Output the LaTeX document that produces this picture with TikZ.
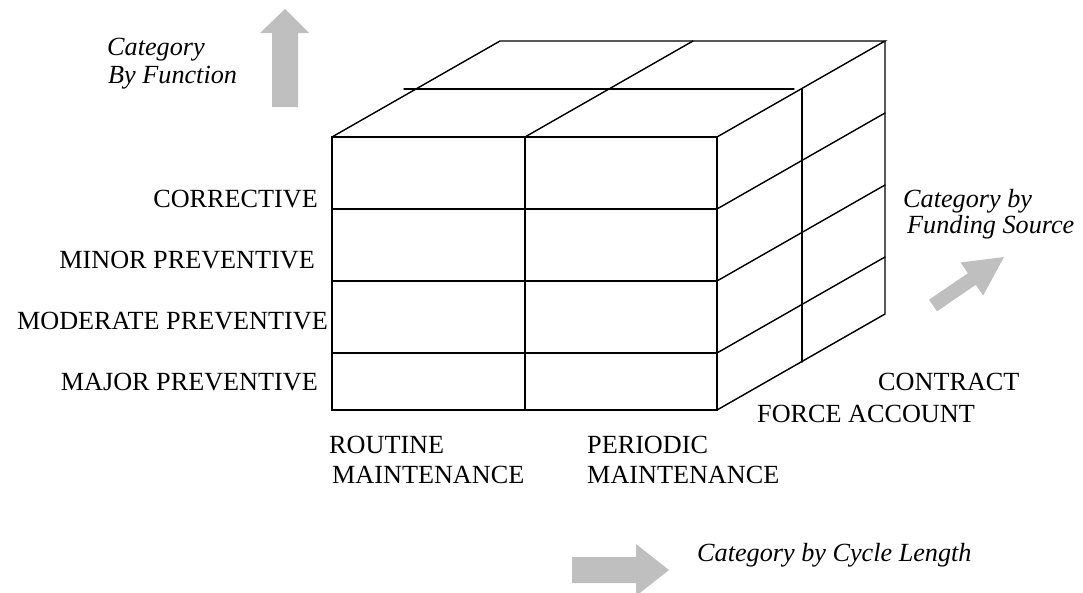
\documentclass[tikz,border=0pt]{standalone}
\usepackage{fontspec}
\setmainfont{Liberation Serif}
\usetikzlibrary{positioning,calc}

\tikzset{
  lbl/.style={font=\fontsize{26.2}{30}\selectfont, inner sep=0pt},
  catlbl/.style={font=\fontsize{26.2}{30}\selectfont\itshape, inner sep=0pt},
  grid/.style={line width=1.4pt, line cap=round},
  blockarrow/.style={fill=gray!50, draw=none}
}

\begin{document}
\begin{tikzpicture}[x=1pt, y=-1pt]
    \useasboundingbox (0,0) rectangle (1083,592);

    % Front Face
    \draw[grid] (332,137) rectangle (717,410);
    \draw[grid] (525,137) -- (525,410);
    \foreach \y in {209,281,353}
        \draw[grid] (332,\y) -- (717,\y);

    % Top Face
    \draw[grid] (332,137) -- (500,41) -- (885,41) -- (717,137);
    \draw[grid] (525,137) -- (693,41);
    \draw[grid] (404,89) -- (794,89);

    % Right Face
    \draw[grid] (885,41) -- (885,314) -- (717,410);
    \foreach \y in {209,281,353}
        \draw[grid] (717,\y) -- ++(168,-96);
    \draw[grid] (802,89) -- (802,362);

    % Row Labels
    \node[lbl, anchor=base east] (corr) at (318,207) {CORRECTIVE};
    \node[lbl, anchor=base east] (minor) at (315,268) {MINOR PREVENTIVE};
    \node[lbl, anchor=base east] (moderate) at (328,329) {MODERATE PREVENTIVE};
    \node[lbl, anchor=base east] (major) at (318,390) {MAJOR PREVENTIVE};

    % Column Labels
    \node[lbl, anchor=base west] (routine) at (329,453) {ROUTINE};
    \node[lbl, anchor=base west] (routine2) at (332,483) {MAINTENANCE};
    \node[lbl, anchor=base west] (periodic) at (587,453) {PERIODIC};
    \node[lbl, anchor=base west] (periodic2) at (587,483) {MAINTENANCE};

    % Depth Labels
    \node[lbl, anchor=base west] (contract) at (878,390) {CONTRACT};
    \node[lbl, anchor=base west] (force) at (757,422) {FORCE ACCOUNT};

    % Category Labels
    \node[catlbl, anchor=base west] (func) at (107,55) {Category};
    \node[catlbl, anchor=base west] (func2) at (108,83) {By Function};
    \node[catlbl, anchor=base west] (fund) at (903,207) {Category by};
    \node[catlbl, anchor=base west] (fund2) at (907,233) {Funding Source};
    \node[catlbl, anchor=base west] (cycle) at (697,561) {Category by Cycle Length};

    % Arrows
    \fill[blockarrow] (272,107) -- (272,33) -- (260,33) -- (285,9) -- (309,33) -- (298,33) -- (298,107) -- cycle;
    \fill[blockarrow] (929,299.7) -- (967.9,273.2) -- (960.5,262.5) -- (1004,257) -- (983.1,295.5) -- (975.8,284.8) -- (937,311.3) -- cycle;
    \fill[blockarrow] (572,557) -- (636,557) -- (636,544) -- (669,570) -- (636,596) -- (636,583) -- (572,583) -- cycle;
\end{tikzpicture}
\end{document}
